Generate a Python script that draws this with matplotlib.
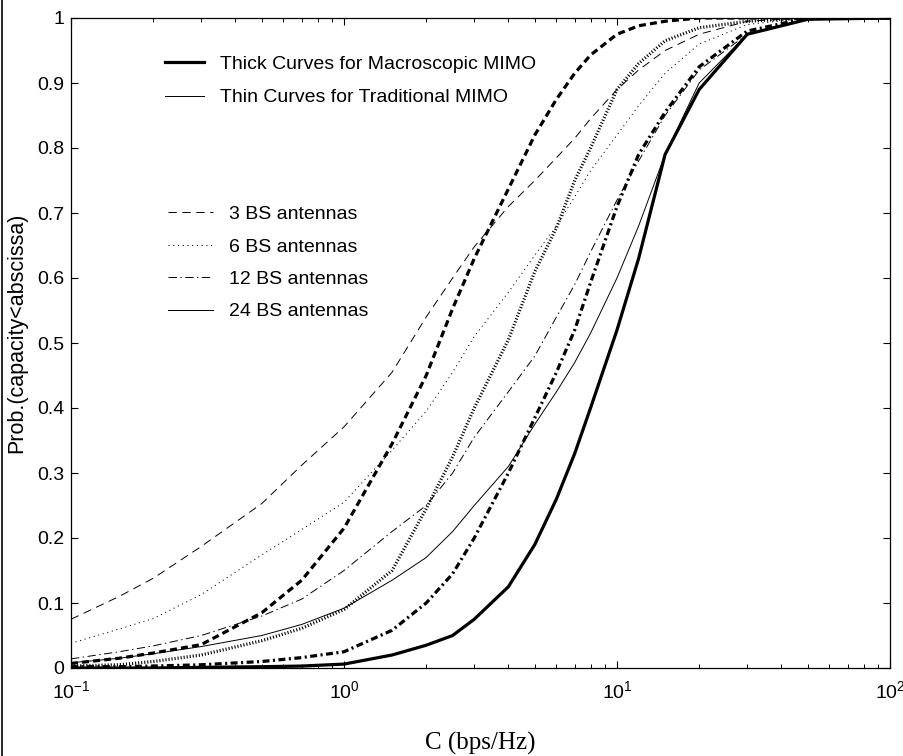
import numpy as np
import matplotlib
matplotlib.use("Agg")
import matplotlib.pyplot as plt
from matplotlib.lines import Line2D
from matplotlib.ticker import LogLocator, FixedLocator

plt.rcParams['font.family'] = ['Liberation Sans', 'DejaVu Sans']
plt.rcParams['mathtext.fontset'] = 'custom'
plt.rcParams['mathtext.rm'] = 'Liberation Sans'
plt.rcParams['mathtext.default'] = 'rm'
plt.rcParams['lines.scale_dashes'] = False

# capacity axis (bps/Hz), common to all curves
cap = [0.1, 0.15, 0.2, 0.3, 0.5, 0.7, 1, 1.5, 2, 2.5, 3, 4, 5, 6, 7, 8, 10, 12, 15, 20, 30, 50, 100]

# Traditional MIMO (thin curves)
trad_3 = [0.075, 0.11, 0.138, 0.187, 0.253, 0.312, 0.371, 0.455, 0.54, 0.6, 0.648, 0.71, 0.75,
          0.785, 0.815, 0.845, 0.89, 0.92, 0.95, 0.975, 0.995, 1.0, 1.0]
trad_6 = [0.038, 0.06, 0.076, 0.113, 0.174, 0.213, 0.255, 0.335, 0.395, 0.455, 0.51, 0.578, 0.635,
          0.68, 0.725, 0.765, 0.82, 0.865, 0.915, 0.96, 0.99, 1.0, 1.0]
trad_12 = [0.014, 0.025, 0.034, 0.05, 0.08, 0.106, 0.15, 0.21, 0.25, 0.3, 0.355, 0.425, 0.48,
           0.54, 0.59, 0.64, 0.72, 0.78, 0.85, 0.92, 0.975, 0.998, 1.0]
trad_24 = [0.008, 0.015, 0.022, 0.033, 0.05, 0.067, 0.092, 0.135, 0.17, 0.21, 0.25, 0.31, 0.375,
           0.425, 0.47, 0.515, 0.6, 0.68, 0.79, 0.9, 0.975, 0.998, 1.0]

# Macroscopic MIMO (thick curves)
macro_3 = [0.007, 0.015, 0.023, 0.036, 0.085, 0.135, 0.215, 0.345, 0.45, 0.553, 0.63, 0.737, 0.82,
           0.875, 0.915, 0.943, 0.975, 0.988, 0.995, 1.0, 1.0, 1.0, 1.0]
macro_6 = [0.003, 0.005, 0.01, 0.02, 0.042, 0.061, 0.09, 0.15, 0.245, 0.325, 0.4, 0.505, 0.61,
           0.677, 0.75, 0.8, 0.89, 0.93, 0.965, 0.985, 0.995, 1.0, 1.0]
macro_12 = [0.002, 0.002, 0.003, 0.005, 0.01, 0.016, 0.025, 0.058, 0.1, 0.145, 0.2, 0.3, 0.385,
            0.455, 0.52, 0.593, 0.71, 0.79, 0.855, 0.925, 0.98, 1.0, 1.0]
macro_24 = [0.0, 0.0, 0.0, 0.001, 0.002, 0.003, 0.006, 0.02, 0.035, 0.05, 0.075, 0.125, 0.19,
            0.26, 0.33, 0.4, 0.52, 0.63, 0.79, 0.89, 0.975, 0.998, 1.0]

ant_labels = ["3 BS antennas", "6 BS antennas", "12 BS antennas", "24 BS antennas"]
yticks = [0, 0.1, 0.2, 0.3, 0.4, 0.5, 0.6, 0.7, 0.8, 0.9, 1]
ytick_labels = ["0", "0.1", "0.2", "0.3", "0.4", "0.5", "0.6", "0.7", "0.8", "0.9", "1"]

thin_lw, thick_lw = 0.7, 2.3
thin_styles = [(0, (6, 4)), (0, (0.8, 2.6)), (0, (6, 2.5, 1, 2.5)), '-']
thick_styles = [(0, (5, 3)), (0, (0.8, 1.4)), (0, (5, 2.5, 1.5, 2.5)), '-']

fig = plt.figure(figsize=(9.04, 7.56), dpi=100)
ax = fig.add_axes([71 / 904, 1 - 668 / 756, 819 / 904, 650 / 756])

for y, ls in zip([trad_3, trad_6, trad_12, trad_24], thin_styles):
    ax.plot(cap, y, color='black', lw=thin_lw, linestyle=ls)
for y, ls in zip([macro_3, macro_6, macro_12, macro_24], thick_styles):
    ax.plot(cap, y, color='black', lw=thick_lw, linestyle=ls)

ax.set_xscale('log')
ax.set_xlim(0.1, 100)
ax.set_ylim(0, 1)
ax.yaxis.set_major_locator(FixedLocator(yticks))
ax.set_yticklabels(ytick_labels)
ax.xaxis.set_minor_locator(LogLocator(base=10, subs=np.arange(2, 10)))
ax.tick_params(which='both', direction='in', top=True, right=True, labelsize=14, colors='black')
ax.tick_params(which='major', length=5, width=0.8, pad=5)
ax.tick_params(axis='x', which='major', pad=9)
ax.tick_params(which='minor', length=3, width=0.7)
for s in ax.spines.values():
    s.set_linewidth(0.9)

ax.set_ylabel("Prob.(capacity<abscissa)", fontsize=15.5)
ax.yaxis.set_label_coords(-0.054, 0.515)
ax.set_xlabel("C (bps/Hz)", fontsize=18, family='Liberation Serif', labelpad=21)

# legend 1: thick vs thin
h1 = [Line2D([], [], color='black', lw=thick_lw), Line2D([], [], color='black', lw=thin_lw)]
leg1 = ax.legend(h1, ["Thick Curves for Macroscopic MIMO", "Thin Curves for Traditional MIMO"],
                 loc='center left', bbox_to_anchor=((165 - 71) / 819, (668 - 81) / 650),
                 frameon=False, fontsize=14, handlelength=2.0, handletextpad=0.85,
                 labelspacing=0.8, borderpad=0, borderaxespad=0)
ax.add_artist(leg1)

# legend 2: line style by number of antennas
h2 = [Line2D([], [], color='black', lw=thin_lw, linestyle=ls) for ls in thin_styles]
ax.legend(h2, ant_labels, loc='center left',
          bbox_to_anchor=((168 - 71) / 819, (668 - 263) / 650),
          frameon=False, fontsize=14, handlelength=2.3, handletextpad=0.85,
          labelspacing=0.76, borderpad=0, borderaxespad=0)

# scan border on the left edge
fig.add_artist(Line2D([0.002, 0.002], [0, 1], transform=fig.transFigure, color='black', lw=1.2))

fig.savefig("out.png", dpi=100)
